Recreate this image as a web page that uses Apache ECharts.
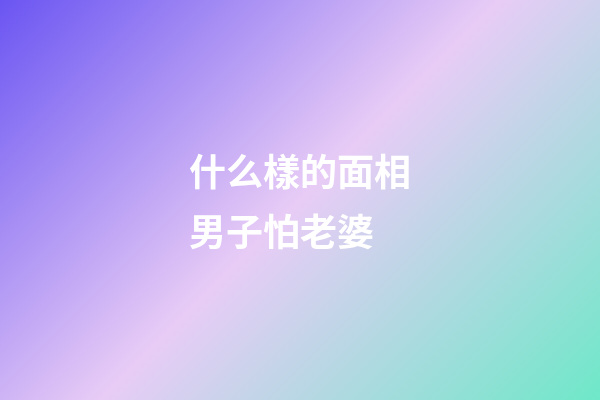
<!DOCTYPE html>
<html>
<head>
<meta charset="utf-8">
<script src="https://cdn.jsdelivr.net/npm/echarts@6/dist/echarts.min.js"></script>
<style>
html,body{margin:0;padding:0;width:600px;height:400px;overflow:hidden;}
#main{width:600px;height:400px;}
</style>
</head>
<body>
<div id="main"></div>
<script>
// Title text lines shown on the card
const titleLines = ['什么樣的面相', '男子怕老婆'];
// Background gradient colours (top-left -> middle -> bottom-right)
const gradientColors = ['#6a55f2', '#e8ccf6', '#6ee8c8'];
const gradientStops = [0, 0.5, 1];

const chart = echarts.init(document.getElementById('main'), null, {renderer: 'canvas', width: 600, height: 400});

const graphics = [{
  type: 'rect',
  left: 0, top: 0, z: 0,
  shape: {x: 0, y: 0, width: 600, height: 400},
  style: {
    fill: {
      type: 'linear', global: true,
      x: 0, y: 0, x2: 500, y2: 500,
      colorStops: gradientColors.map((c, i) => ({offset: gradientStops[i], color: c}))
    }
  },
  silent: true
}];

titleLines.forEach((t, i) => {
  graphics.push({
    type: 'text',
    z: 10,
    x: 189,
    y: 172 + i * 60,
    style: {
      text: t,
      fill: '#ffffff',
      font: 'bold 37px "Noto Sans CJK SC", sans-serif',
      textAlign: 'left',
      textVerticalAlign: 'middle'
    }
  });
});

chart.setOption({
  animation: false,
  graphic: graphics
});
</script>
</body>
</html>
